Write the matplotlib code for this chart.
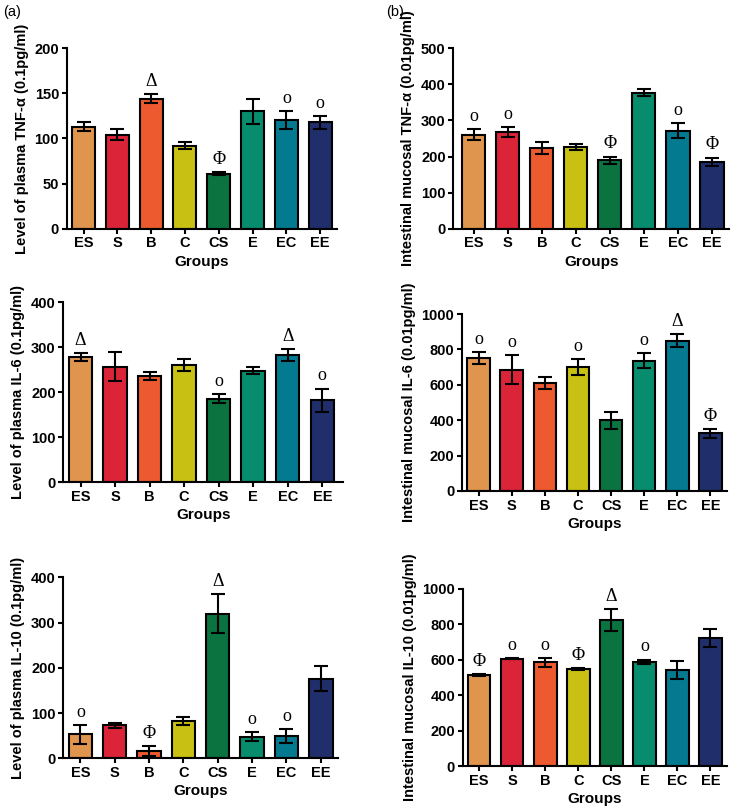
import matplotlib
matplotlib.use("Agg")
import matplotlib.pyplot as plt
import numpy as np

groups = ["ES", "S", "B", "C", "CS", "E", "EC", "EE"]
colors = ["#E0954F", "#DC2439", "#EE5A2F", "#C8C114", "#0A7340", "#078C6E", "#047A90", "#202E6C"]

tnf_plasma = [113, 104, 144, 92, 61, 130, 120, 118]
tnf_plasma_err = [5, 6, 5, 4, 1.5, 14, 10, 7]
tnf_plasma_mark = ["", "", "Δ", "", "Φ", "", "o", "o"]

tnf_int = [261, 267, 224, 226, 190, 377, 272, 185]
tnf_int_err = [14, 14, 16, 8, 10, 9, 20, 12]
tnf_int_mark = ["o", "o", "", "", "Φ", "", "o", "Φ"]

il6_plasma = [278, 257, 236, 260, 185, 248, 283, 182]
il6_plasma_err = [9, 33, 9, 13, 10, 7, 13, 26]
il6_plasma_mark = ["Δ", "", "", "", "o", "", "Δ", "o"]

il6_int = [751, 685, 610, 699, 399, 736, 849, 326]
il6_int_err = [32, 82, 32, 45, 47, 43, 36, 25]
il6_int_mark = ["o", "o", "", "o", "", "o", "Δ", "Φ"]

il10_plasma = [53, 73, 16, 83, 319, 48, 49, 176]
il10_plasma_err = [21, 5, 11, 9, 43, 10, 16, 28]
il10_plasma_mark = ["o", "", "Φ", "", "Δ", "o", "o", ""]

il10_int = [514, 606, 586, 546, 825, 588, 542, 723]
il10_int_err = [5, 3, 26, 6, 60, 13, 50, 50]
il10_int_mark = ["Φ", "o", "o", "Φ", "Δ", "o", "", ""]

W, H = 732, 810
fig = plt.figure(figsize=(W / 100, H / 100), dpi=100)

plt.rcParams['font.family'] = ['Liberation Sans', 'DejaVu Sans']

def rect(x0, x1, ytop, ybot):
    return [x0 / W, 1 - ybot / H, (x1 - x0) / W, (ybot - ytop) / H]

panels = [
    (rect(66.7, 337, 48.3, 228.7), tnf_plasma, tnf_plasma_err, tnf_plasma_mark, 200, 50,
     "Level of plasma TNF-α (0.1pg/ml)", (-0.5, 7.5)),
    (rect(453.3, 729, 48.3, 228.7), tnf_int, tnf_int_err, tnf_int_mark, 500, 100,
     "Intestinal mucosal TNF-α (0.01pg/ml)", (-0.6, 7.5)),
    (rect(63.3, 343, 302.3, 482), il6_plasma, il6_plasma_err, il6_plasma_mark, 400, 100,
     "Level of plasma IL-6 (0.1pg/ml)", (-0.5, 7.6)),
    (rect(462, 727, 314, 491), il6_int, il6_int_err, il6_int_mark, 1000, 200,
     "Intestinal mucosal IL-6 (0.01pg/ml)", (-0.5, 7.5)),
    (rect(63.3, 338, 577.3, 758.3), il10_plasma, il10_plasma_err, il10_plasma_mark, 400, 100,
     "Level of plasma IL-10 (0.1pg/ml)", (-0.5, 7.5)),
    (rect(462.7, 727, 589, 766), il10_int, il10_int_err, il10_int_mark, 1000, 200,
     "Intestinal mucosal IL-10 (0.01pg/ml)", (-0.5, 7.5)),
]

for pos, vals, errs, marks, ymax, step, ylabel, xlim in panels:
    ax = fig.add_axes(pos)
    x = np.arange(len(groups))
    ax.bar(x, vals, width=0.68, color=colors, edgecolor="black", linewidth=1.5, zorder=2)
    ax.errorbar(x, vals, yerr=errs, fmt="none", ecolor="black", elinewidth=1.5,
                capsize=5, capthick=1.5, zorder=3)
    for xi, v, e, m in zip(x, vals, errs, marks):
        if m:
            ax.annotate(m, (xi, v + e), xytext=(0, 3), textcoords="offset points",
                        ha="center", va="bottom", fontsize=13,
                        family=["Liberation Serif", "DejaVu Serif"])
    ax.set_xlim(*xlim)
    ax.set_ylim(0, ymax)
    ax.set_yticks(np.arange(0, ymax + 1, step))
    ax.set_xticks(x)
    ax.set_xticklabels(groups, fontsize=10.5, fontweight="bold")
    for lab in ax.get_yticklabels():
        lab.set_fontweight("bold")
        lab.set_fontsize(10.5)
    ax.spines["top"].set_visible(False)
    ax.spines["right"].set_visible(False)
    ax.spines["left"].set_linewidth(1.5)
    ax.spines["bottom"].set_linewidth(1.5)
    ax.tick_params(axis="both", width=1.5, length=3.5, pad=2)
    ax.set_xlabel("Groups", fontsize=11, fontweight="bold", labelpad=3)
    ax.set_ylabel(ylabel, fontsize=10.5, fontweight="bold", labelpad=4)

fig.text(3 / W, 1 - 12 / H, "(a)", fontsize=10.5, va="center", ha="left")
fig.text(386 / W, 1 - 12 / H, "(b)", fontsize=10.5, va="center", ha="left")

fig.savefig("out.png", dpi=100)
